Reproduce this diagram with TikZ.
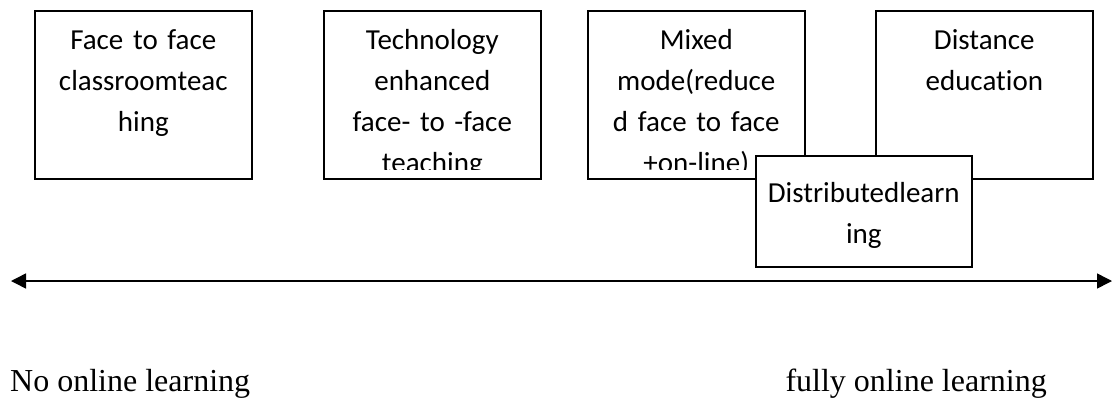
\documentclass[tikz,border=0pt]{standalone}
\usepackage{fontspec}
\setmainfont{Liberation Serif}
\newfontfamily\boxfont[Ligatures=NoCommon]{Carlito}
\usetikzlibrary{arrows.meta}
\tikzset{
  frame/.style={draw=black, line width=1.6bp, fill=white, rectangle,
    minimum width=217bp, minimum height=168bp, inner sep=0pt, anchor=north west},
  lbl/.style={anchor=north, inner sep=0pt, text width=214bp, align=center,
    font=\boxfont\fontsize{29bp}{41bp}\selectfont},
  endlbl/.style={inner sep=0pt, font=\fontsize{32bp}{38bp}\selectfont},
  axistip/.tip={Triangle[length=15bp,width=15bp]},
}
\newcommand{\fs}{\rule{0pt}{24bp}}
\begin{document}
\begin{tikzpicture}[x=1bp,y=-1bp]
\useasboundingbox (0,0) rectangle (1113,398);

% top boxes
\node[frame] (b1) at (34,10) {};
\begin{scope}
\clip ([yshift=-1bp]b1.north west) rectangle ([yshift=10bp]b1.south east);
\node[lbl] (t1) at ([yshift=-15bp]b1.north) {\fs Face to face\\classroomteac\\hing};
\end{scope}

\node[frame] (b2) at (323,10) {};
\begin{scope}
\clip ([yshift=-1bp]b2.north west) rectangle ([yshift=10bp]b2.south east);
\node[lbl] (t2) at ([yshift=-15bp]b2.north) {\fs Technology\\enhanced\\face- to -face\\teaching};
\end{scope}

\node[frame] (b3) at (587,10) {};
\begin{scope}
\clip ([yshift=-1bp]b3.north west) rectangle ([yshift=10bp]b3.south east);
\node[lbl] (t3) at ([yshift=-15bp]b3.north) {\fs Mixed\\mode(reduce\\d face to face\\+on-line)};
\end{scope}

\node[frame] (b4) at (875,10) {};
\begin{scope}
\clip ([yshift=-1bp]b4.north west) rectangle ([yshift=10bp]b4.south east);
\node[lbl] (t4) at ([yshift=-15bp]b4.north) {\fs Distance\\education};
\end{scope}

% overlapping box
\node[frame, minimum width=216bp, minimum height=111bp] (d) at (755,155) {};
\begin{scope}
\clip ([yshift=-1bp]d.north west) rectangle ([yshift=19bp]d.south east);
\node[lbl] (td) at ([yshift=-23bp]d.north) {\fs Distributedlearn\\ing};
\end{scope}

% axis
\coordinate (L) at (11,281);
\coordinate (R) at (1112,281);
\draw[line width=1.5bp, axistip-axistip] (L) -- (R);

% end labels
\node[endlbl, anchor=base west] (no) at (10,391) {No online learning};
\node[endlbl, anchor=base east] (full) at (1047,391) {fully online learning};
\end{tikzpicture}
\end{document}
